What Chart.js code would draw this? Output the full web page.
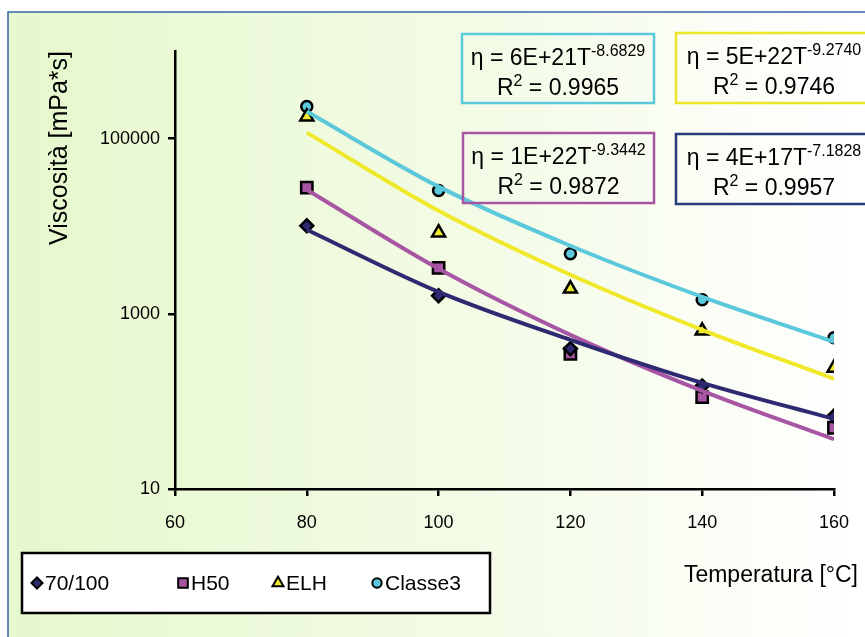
<!DOCTYPE html>
<html>
<head>
<meta charset="utf-8">
<script src="https://cdn.jsdelivr.net/npm/chart.js@4.4.1/dist/chart.umd.min.js"></script>
<style>
  html, body { margin: 0; padding: 0; background: #fff; }
  #wrap { width: 865px; height: 637px; }
</style>
</head>
<body>
<div id="wrap"><canvas id="viscChart"></canvas></div>
<script>
// measured points
const temps = [80, 100, 120, 140, 160];
const seriesNames = ['70/100', 'H50', 'ELH', 'Classe3'];
const visc70 = [10100, 1610, 400, 150, 68];
const viscH50 = [27500, 3350, 350, 112, 50];
const viscELH = [178000, 8430, 1930, 640, 241];
const viscClasse3 = [232000, 25500, 4850, 1445, 532];

// power trend curves at the same temperatures
const trend70 = [9120, 1780, 505, 163, 63];
const trendH50 = [26100, 3270, 575, 132, 37];
const trendELH = [117000, 15000, 2790, 656, 181];
const trendClasse3 = [203700, 28300, 5980, 1560, 479];

// trend equation labels
const eqCoef = ['4E+17', '1E+22', '5E+22', '6E+21'];
const eqExp = ['-7.1828', '-9.3442', '-9.2740', '-8.6829'];
const eqR2 = ['0.9957', '0.9872', '0.9746', '0.9965'];

const xTicks = [60, 80, 100, 120, 140, 160];
const yTicks = [10, 1000, 100000];

const colors = ['#2e2a72', '#a856a4', '#f0e82a', '#5cc8dc'];
const markers = ['rectRot', 'rect', 'triangle', 'circle'];
const markerRadius = [6.5, 8, 7.5, 5.5];
const FONT = 'Liberation Sans, Arial, sans-serif';

const pointSets = [visc70, viscH50, viscELH, viscClasse3];
const trendSets = [trend70, trendH50, trendELH, trendClasse3];

const toXY = (vals) => temps.map((t, i) => ({ x: t, y: vals[i] }));

const datasets = [];
trendSets.forEach((vals, i) => {
    datasets.push({
        label: seriesNames[i] + ' trend',
        data: toXY(vals),
        borderColor: colors[i],
        borderWidth: 4,
        pointRadius: 0,
        fill: false,
        cubicInterpolationMode: 'monotone',
        order: 0
    });
});
pointSets.forEach((vals, i) => {
    datasets.push({
        label: seriesNames[i],
        data: toXY(vals),
        showLine: false,
        pointStyle: markers[i],
        pointRadius: markerRadius[i],
        pointBackgroundColor: colors[i],
        pointBorderColor: '#000',
        pointBorderWidth: 2.5,
        order: 1
    });
});

// boxes with the trend equations: [left, top, width, height]
const eqBoxes = [
    [676, 134, 196, 70],
    [463, 133, 191, 70],
    [676, 33, 196, 70],
    [462, 34, 192, 69]
];
const eqBorder = ['#283c7c', '#a856a4', '#ece628', '#5cc8dc'];

const drawSupLine = (ctx, parts, cx, baseY) => {
    // parts: [text, isSup]
    const widths = parts.map(p => {
        ctx.font = (p[1] ? '16px ' : '23px ') + FONT;
        return ctx.measureText(p[0]).width;
    });
    let x = cx - widths.reduce((a, b) => a + b, 0) / 2;
    parts.forEach((p, k) => {
        ctx.font = (p[1] ? '16px ' : '23px ') + FONT;
        ctx.fillText(p[0], x, p[1] ? baseY - 9 : baseY);
        x += widths[k];
    });
};

const decorPlugin = {
    id: 'decor',
    beforeDraw(chart) {
        const ctx = chart.ctx;
        ctx.save();
        ctx.fillStyle = '#ffffff';
        ctx.fillRect(0, 0, chart.width, chart.height);
        const g = ctx.createLinearGradient(8, 0, chart.width, 0);
        g.addColorStop(0, '#e6f8cd');
        g.addColorStop(0.55, '#f3fbe6');
        g.addColorStop(1, '#ffffff');
        ctx.fillStyle = g;
        ctx.fillRect(8, 12, chart.width - 8, chart.height - 12);
        ctx.strokeStyle = '#3566a6';
        ctx.lineWidth = 1.5;
        ctx.beginPath();
        ctx.moveTo(8, chart.height);
        ctx.lineTo(8, 12);
        ctx.lineTo(chart.width, 12);
        ctx.stroke();
        ctx.restore();
    },
    afterDraw(chart) {
        const ctx = chart.ctx;
        ctx.save();

        // equation boxes
        eqBoxes.forEach((b, i) => {
            ctx.strokeStyle = eqBorder[i];
            ctx.lineWidth = 2.5;
            ctx.strokeRect(b[0], b[1], b[2], b[3]);
            ctx.fillStyle = '#000';
            ctx.textBaseline = 'alphabetic';
            ctx.textAlign = 'left';
            const cx = b[0] + b[2] / 2;
            drawSupLine(ctx, [['\u03b7 = ' + eqCoef[i] + 'T', false], [eqExp[i], true]], cx, b[1] + 31);
            drawSupLine(ctx, [['R', false], ['2', true], [' = ' + eqR2[i], false]], cx, b[1] + 61);
        });

        // x axis title
        ctx.fillStyle = '#000';
        ctx.font = '23px ' + FONT;
        ctx.textAlign = 'right';
        ctx.textBaseline = 'middle';
        ctx.fillText('Temperatura [\u00b0C]', 858, 576);

        // legend
        ctx.fillStyle = '#ffffff';
        ctx.fillRect(22, 553, 468, 60);
        ctx.strokeStyle = '#000';
        ctx.lineWidth = 2.5;
        ctx.strokeRect(22, 553, 468, 60);
        const itemX = [37, 183, 278, 377];
        ctx.font = '21px ' + FONT;
        ctx.textAlign = 'left';
        seriesNames.forEach((name, i) => {
            ctx.fillStyle = colors[i];
            ctx.strokeStyle = '#000';
            ctx.lineWidth = 2;
            Chart.helpers.drawPoint(ctx, {
                pointStyle: markers[i],
                radius: markerRadius[i] * 0.85,
                borderWidth: 2,
                rotation: 0
            }, itemX[i], 583);
            ctx.fillStyle = '#000';
            ctx.fillText(name, itemX[i] + 8, 584);
        });
        ctx.restore();
    }
};

const ctx = document.getElementById('viscChart').getContext('2d');
new Chart(ctx, {
    type: 'line',
    data: { datasets: datasets },
    plugins: [decorPlugin],
    options: {
        responsive: true,
        maintainAspectRatio: false,
        animation: false,
        layout: { padding: { top: 51, right: 29, left: 0, bottom: 0 } },
        plugins: {
            legend: { display: false },
            tooltip: { enabled: false }
        },
        scales: {
            x: {
                type: 'linear',
                min: 60,
                max: 160,
                afterFit: (scale) => { scale.height = 148; },
                afterBuildTicks: (scale) => { scale.ticks = xTicks.map(v => ({ value: v })); },
                ticks: {
                    color: '#000',
                    font: { family: FONT, size: 18 },
                    padding: 16
                },
                grid: { drawOnChartArea: false, color: '#000', lineWidth: 2.5, tickLength: 7 },
                border: { color: '#000', width: 2.5 }
            },
            y: {
                type: 'logarithmic',
                min: 10,
                max: 1000000,
                afterFit: (scale) => { scale.width = 175; },
                afterBuildTicks: (scale) => { scale.ticks = yTicks.map(v => ({ value: v })); },
                ticks: {
                    color: '#000',
                    font: { family: FONT, size: 18 },
                    padding: 8,
                    callback: (v) => String(v)
                },
                grid: { drawOnChartArea: false, color: '#000', lineWidth: 2.5, tickLength: 7 },
                border: { color: '#000', width: 2.5 },
                title: {
                    display: true,
                    text: 'Viscosit\u00e0 [mPa*s]',
                    color: '#000',
                    align: 'end',
                    font: { family: FONT, size: 25 },
                    padding: { top: 45 }
                }
            }
        }
    }
});
</script>
</body>
</html>
